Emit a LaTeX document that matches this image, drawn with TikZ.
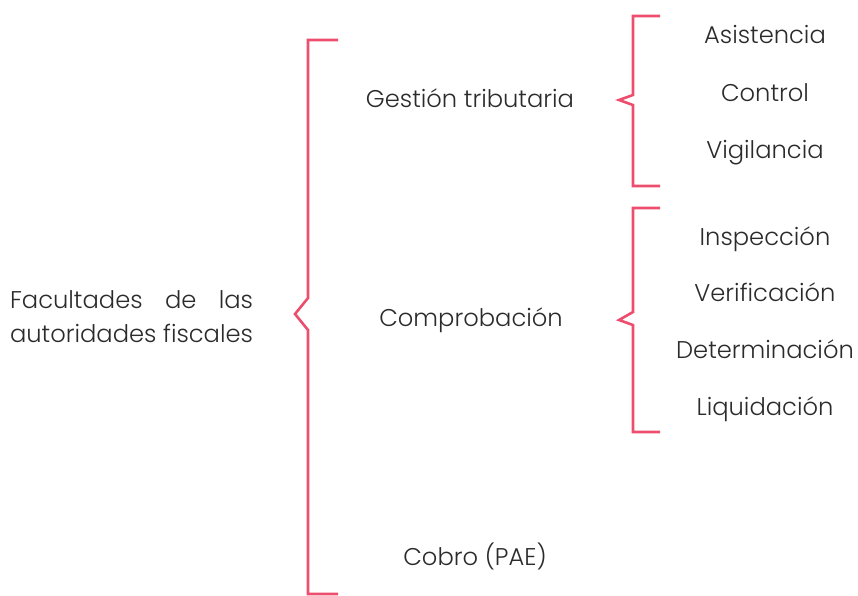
\documentclass[tikz,border=0pt]{standalone}
\usepackage{fontspec}
\usepackage{calc}
\setmainfont{Poppins Light}
\definecolor{brk}{HTML}{EE4E6E}
\definecolor{txt}{HTML}{2B2B2B}
\tikzset{
  lbl/.style={text=txt, font=\fontsize{24.2}{34}\selectfont, inner sep=0pt, anchor=base},
  brack/.style={draw=brk, line width=2.6pt, line join=miter}
}
\begin{document}
\begin{tikzpicture}[x=1pt,y=-1pt]
\useasboundingbox (0,0) rectangle (858,595);
% brackets
\draw[brack] (338,40) -- (308,40) -- (308,298) -- (295,314) -- (308,330) -- (308,594) -- (338,594);
\draw[brack] (660,16) -- (633,16) -- (633,95) -- (619,100) -- (633,105) -- (633,186) -- (660,186);
\draw[brack] (660,208) -- (633,208) -- (633,312) -- (619,320) -- (633,325) -- (633,432) -- (660,432);
% texts
\node[lbl, align=left] (fac) at (131.5,342) {\makebox[\widthof{autoridades fiscales}][s]{Facultades de las}\\autoridades fiscales};
\node[lbl] (ges) at (470,107) {Gestión tributaria};
\node[lbl] (com) at (471,326) {Comprobación};
\node[lbl] (cob) at (475,565) {Cobro (PAE)};
\node[lbl] (asi) at (765,43) {Asistencia};
\node[lbl] (con) at (765,101) {Control};
\node[lbl] (vig) at (765,158) {Vigilancia};
\node[lbl] (ins) at (765,245) {Inspección};
\node[lbl] (ver) at (765,301) {Verificación};
\node[lbl] (det) at (765,358) {Determinación};
\node[lbl] (liq) at (765,415) {Liquidación};
\end{tikzpicture}
\end{document}
